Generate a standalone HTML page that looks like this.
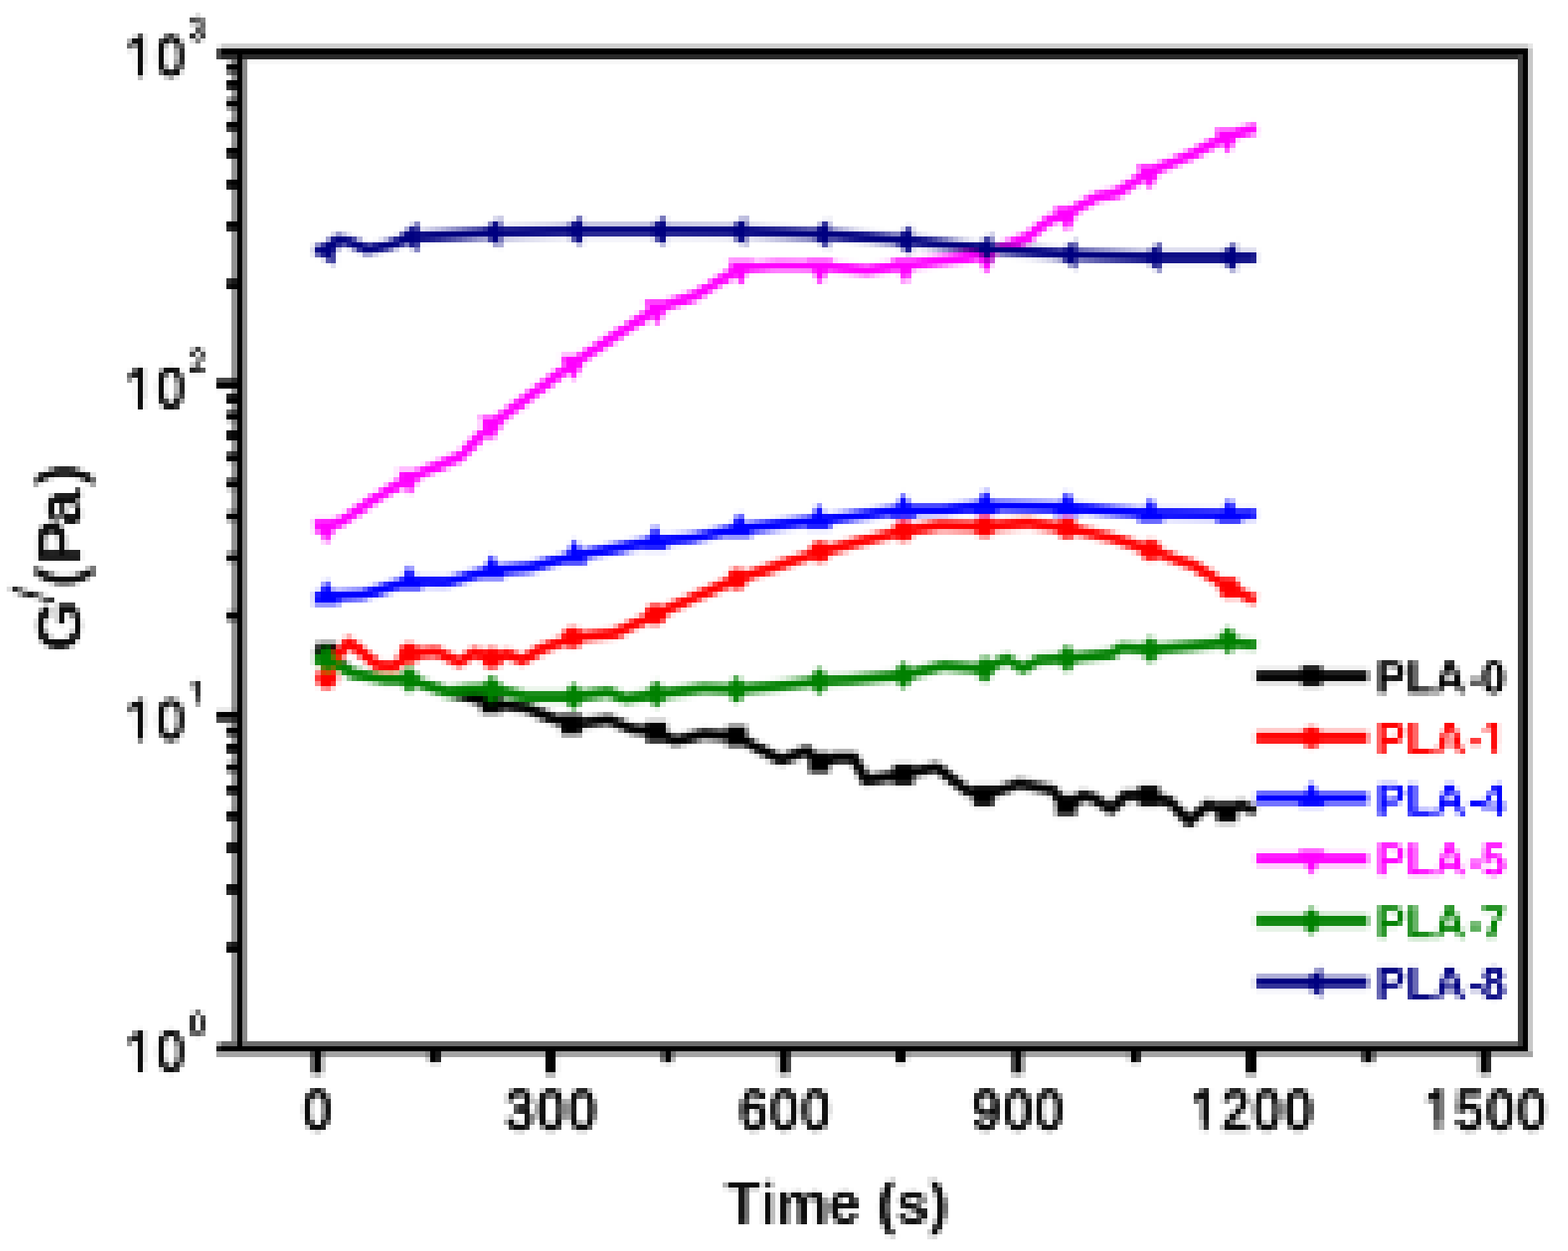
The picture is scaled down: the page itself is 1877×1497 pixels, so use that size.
<!DOCTYPE html>
<html lang="en">
<head>
<meta charset="utf-8">
<title>G' (Pa) versus Time (s)</title>
<style>
html,body{margin:0;padding:0;background:#fff;}
body{width:1877px;height:1497px;overflow:hidden;}
svg{display:block;}
text{font-family:"Liberation Sans",sans-serif;}
</style>
</head>
<body>
<svg width="1877" height="1497" viewBox="0 0 1877 1497">
<defs>
<filter id="b1" x="-5%" y="-5%" width="110%" height="110%"><feGaussianBlur stdDeviation="1.6"/></filter>
<filter id="b2" x="-5%" y="-5%" width="110%" height="110%"><feGaussianBlur stdDeviation="2.2"/></filter>
<filter id="b3" x="-5%" y="-5%" width="110%" height="110%"><feGaussianBlur stdDeviation="1.6"/></filter>
<filter id="b4" x="-5%" y="-5%" width="110%" height="110%"><feGaussianBlur stdDeviation="1.6"/></filter>
<filter id="pix" filterUnits="userSpaceOnUse" primitiveUnits="userSpaceOnUse" x="-12" y="-12" width="1901" height="1521" color-interpolation-filters="sRGB">
<feFlood x="5" y="2" width="1" height="25" flood-color="#000" result="c0"/>
<feFlood x="11" y="2" width="1" height="25" flood-color="#000" result="c1"/>
<feFlood x="18" y="2" width="1" height="25" flood-color="#000" result="c2"/>
<feFlood x="24" y="2" width="1" height="25" flood-color="#000" result="c3"/>
<feFlood x="30" y="2" width="1" height="25" flood-color="#000" result="c4"/>
<feFlood x="36" y="2" width="1" height="25" flood-color="#000" result="c5"/>
<feFlood x="43" y="2" width="1" height="25" flood-color="#000" result="c6"/>
<feFlood x="49" y="2" width="1" height="25" flood-color="#000" result="c7"/>
<feFlood x="55" y="2" width="1" height="25" flood-color="#000" result="c8"/>
<feFlood x="61" y="2" width="1" height="25" flood-color="#000" result="c9"/>
<feFlood x="68" y="2" width="1" height="25" flood-color="#000" result="c10"/>
<feFlood x="74" y="2" width="1" height="25" flood-color="#000" result="c11"/>
<feFlood x="80" y="2" width="1" height="25" flood-color="#000" result="c12"/>
<feFlood x="86" y="2" width="1" height="25" flood-color="#000" result="c13"/>
<feFlood x="93" y="2" width="1" height="25" flood-color="#000" result="c14"/>
<feFlood x="99" y="2" width="1" height="25" flood-color="#000" result="c15"/>
<feFlood x="105" y="2" width="1" height="25" flood-color="#000" result="c16"/>
<feFlood x="111" y="2" width="1" height="25" flood-color="#000" result="c17"/>
<feFlood x="118" y="2" width="1" height="25" flood-color="#000" result="c18"/>
<feFlood x="124" y="2" width="1" height="25" flood-color="#000" result="c19"/>
<feFlood x="130" y="2" width="1" height="25" flood-color="#000" result="c20"/>
<feFlood x="136" y="2" width="1" height="25" flood-color="#000" result="c21"/>
<feFlood x="143" y="2" width="1" height="25" flood-color="#000" result="c22"/>
<feFlood x="149" y="2" width="1" height="25" flood-color="#000" result="c23"/>
<feFlood x="155" y="2" width="1" height="25" flood-color="#000" result="c24"/>
<feFlood x="161" y="2" width="1" height="25" flood-color="#000" result="c25"/>
<feFlood x="168" y="2" width="1" height="25" flood-color="#000" result="c26"/>
<feFlood x="174" y="2" width="1" height="25" flood-color="#000" result="c27"/>
<feFlood x="180" y="2" width="1" height="25" flood-color="#000" result="c28"/>
<feFlood x="186" y="2" width="1" height="25" flood-color="#000" result="c29"/>
<feFlood x="193" y="2" width="1" height="25" flood-color="#000" result="c30"/>
<feFlood x="199" y="2" width="1" height="25" flood-color="#000" result="c31"/>
<feFlood x="205" y="2" width="1" height="25" flood-color="#000" result="c32"/>
<feFlood x="211" y="2" width="1" height="25" flood-color="#000" result="c33"/>
<feFlood x="218" y="2" width="1" height="25" flood-color="#000" result="c34"/>
<feMerge x="2" y="2" width="219" height="25" result="cols"><feMergeNode in="c0"/><feMergeNode in="c1"/><feMergeNode in="c2"/><feMergeNode in="c3"/><feMergeNode in="c4"/><feMergeNode in="c5"/><feMergeNode in="c6"/><feMergeNode in="c7"/><feMergeNode in="c8"/><feMergeNode in="c9"/><feMergeNode in="c10"/><feMergeNode in="c11"/><feMergeNode in="c12"/><feMergeNode in="c13"/><feMergeNode in="c14"/><feMergeNode in="c15"/><feMergeNode in="c16"/><feMergeNode in="c17"/><feMergeNode in="c18"/><feMergeNode in="c19"/><feMergeNode in="c20"/><feMergeNode in="c21"/><feMergeNode in="c22"/><feMergeNode in="c23"/><feMergeNode in="c24"/><feMergeNode in="c25"/><feMergeNode in="c26"/><feMergeNode in="c27"/><feMergeNode in="c28"/><feMergeNode in="c29"/><feMergeNode in="c30"/><feMergeNode in="c31"/><feMergeNode in="c32"/><feMergeNode in="c33"/><feMergeNode in="c34"/></feMerge>
<feFlood x="2" y="5" width="219" height="1" flood-color="#000" result="r0"/>
<feFlood x="2" y="11" width="219" height="1" flood-color="#000" result="r1"/>
<feFlood x="2" y="18" width="219" height="1" flood-color="#000" result="r2"/>
<feFlood x="2" y="24" width="219" height="1" flood-color="#000" result="r3"/>
<feMerge x="2" y="2" width="219" height="25" result="rows"><feMergeNode in="r0"/><feMergeNode in="r1"/><feMergeNode in="r2"/><feMergeNode in="r3"/></feMerge>
<feComposite in="cols" in2="rows" operator="in" x="2" y="2" width="219" height="25" result="cell"/>
<feTile in="cell" x="-12" y="-12" width="1901" height="1521" result="grid"/>
<feComposite in="SourceGraphic" in2="grid" operator="in" result="samp"/>
<feMorphology in="samp" operator="dilate" radius="2" result="d"/>
<feOffset in="d" dx="1" dy="0" result="dxp"/>
<feOffset in="d" dx="-1" dy="0" result="dxm"/>
<feMerge result="dx"><feMergeNode in="dxp"/><feMergeNode in="dxm"/><feMergeNode in="d"/></feMerge>
<feOffset in="dx" dx="0" dy="1" result="dyp"/>
<feOffset in="dx" dx="0" dy="-1" result="dym"/>
<feMerge><feMergeNode in="dyp"/><feMergeNode in="dym"/><feMergeNode in="dx"/></feMerge>
</filter>
</defs>
<g id="chart">
<rect x="-12" y="-12" width="1901" height="1521" fill="#fff"/>
<g shape-rendering="crispEdges">
<rect x="265" y="52" width="1564" height="6" fill="#d0d0d0"/>
<rect x="259" y="52" width="6" height="6" fill="#f0f0f0"/>
<rect x="1829" y="52" width="6" height="6" fill="#e6e6e6"/>
<rect x="296" y="71" width="1521" height="6" fill="#f8f8f8"/>
<rect x="265" y="58" width="1564" height="7" fill="#000"/>
<rect x="259" y="58" width="6" height="13" fill="#474747"/>
<rect x="265" y="65" width="1552" height="6" fill="#2a2a2a"/>
<rect x="265" y="1246" width="1564" height="6" fill="#6c6c6c"/>
<rect x="259" y="1246" width="6" height="6" fill="#a8a8a8"/>
<rect x="265" y="1252" width="1564" height="6" fill="#000"/>
<rect x="259" y="1252" width="6" height="6" fill="#1a1a1a"/>
<rect x="259" y="1258" width="1576" height="7" fill="#a4a4a4"/>
<rect x="277" y="71" width="7" height="1175" fill="#929292"/>
<rect x="290" y="71" width="6" height="1175" fill="#8a8a8a"/>
<rect x="284" y="65" width="6" height="1187" fill="#000"/>
<rect x="1817" y="65" width="6" height="1187" fill="#3c3c3c"/>
<rect x="1823" y="58" width="6" height="1200" fill="#000"/>
<rect x="1829" y="58" width="6" height="1200" fill="#c8c8c8"/>
</g>
<g filter="url(#b1)">
<rect x="271.5" y="335.1" width="13.5" height="10.8" fill="#000"/>
<rect x="271.5" y="265.2" width="13.5" height="10.8" fill="#000"/>
<rect x="271.5" y="215.6" width="13.5" height="10.8" fill="#000"/>
<rect x="271.5" y="177.1" width="13.5" height="10.8" fill="#000"/>
<rect x="271.5" y="145.7" width="13.5" height="10.8" fill="#000"/>
<rect x="271.5" y="119.1" width="13.5" height="10.8" fill="#000"/>
<rect x="271.5" y="96.1" width="13.5" height="10.8" fill="#000"/>
<rect x="271.5" y="75.8" width="13.5" height="10.8" fill="#000"/>
<rect x="259.5" y="454.6" width="25.5" height="10.8" fill="#000"/>
<rect x="271.5" y="732.1" width="13.5" height="10.8" fill="#000"/>
<rect x="271.5" y="662.2" width="13.5" height="10.8" fill="#000"/>
<rect x="271.5" y="612.6" width="13.5" height="10.8" fill="#000"/>
<rect x="271.5" y="574.1" width="13.5" height="10.8" fill="#000"/>
<rect x="271.5" y="542.7" width="13.5" height="10.8" fill="#000"/>
<rect x="271.5" y="516.1" width="13.5" height="10.8" fill="#000"/>
<rect x="271.5" y="493.1" width="13.5" height="10.8" fill="#000"/>
<rect x="271.5" y="472.8" width="13.5" height="10.8" fill="#000"/>
<rect x="259.5" y="851.6" width="25.5" height="10.8" fill="#000"/>
<rect x="271.5" y="1129.1" width="13.5" height="10.8" fill="#000"/>
<rect x="271.5" y="1059.2" width="13.5" height="10.8" fill="#000"/>
<rect x="271.5" y="1009.6" width="13.5" height="10.8" fill="#000"/>
<rect x="271.5" y="971.1" width="13.5" height="10.8" fill="#000"/>
<rect x="271.5" y="939.7" width="13.5" height="10.8" fill="#000"/>
<rect x="271.5" y="913.1" width="13.5" height="10.8" fill="#000"/>
<rect x="271.5" y="890.1" width="13.5" height="10.8" fill="#000"/>
<rect x="271.5" y="869.8" width="13.5" height="10.8" fill="#000"/>
<rect x="374.2" y="1257" width="12.2" height="28.5" fill="#000"/>
<rect x="513.9" y="1257" width="12.2" height="15.5" fill="#000"/>
<rect x="653.7" y="1257" width="12.2" height="28.5" fill="#000"/>
<rect x="793.4" y="1257" width="12.2" height="15.5" fill="#000"/>
<rect x="933.2" y="1257" width="12.2" height="28.5" fill="#000"/>
<rect x="1073.0" y="1257" width="12.2" height="15.5" fill="#000"/>
<rect x="1212.7" y="1257" width="12.2" height="28.5" fill="#000"/>
<rect x="1352.5" y="1257" width="12.2" height="15.5" fill="#000"/>
<rect x="1492.2" y="1257" width="12.2" height="28.5" fill="#000"/>
<rect x="1632.0" y="1257" width="12.2" height="15.5" fill="#000"/>
<rect x="1771.7" y="1257" width="12.2" height="28.5" fill="#000"/>
</g>
<g shape-rendering="crispEdges">
<rect x="284" y="65" width="6" height="1187" fill="#000"/>
<rect x="265" y="1252" width="1564" height="6" fill="#000"/>
<rect x="265" y="58" width="1564" height="7" fill="#000"/>
<rect x="265" y="65" width="1552" height="6" fill="#2a2a2a"/>
<rect x="284" y="65" width="6" height="6" fill="#000"/>
</g>
<g filter="url(#b2)">
<polyline points="377.0,783.0 391.3,783.0 422.0,806.0 460.0,813.0 490.0,814.0 535.4,828.0 560.0,833.5 588.0,842.0 630.6,847.6 659.0,859.0 684.0,867.4 729.5,861.7 757.8,873.0 786.0,876.0 808.6,887.0 842.5,878.7 882.0,881.5 913.0,898.4 935.7,909.7 966.8,898.4 981.0,915.4 1000.0,907.0 1022.6,907.0 1036.7,934.0 1082.0,927.0 1121.5,918.4 1158.2,946.7 1178.0,952.3 1220.4,938.2 1260.0,945.3 1276.9,966.5 1296.7,952.3 1311.0,956.0 1330.5,969.3 1347.5,952.3 1375.8,952.3 1401.0,960.0 1423.8,983.4 1446.4,963.6 1469.0,972.0 1486.0,963.6 1503.0,970.7" fill="none" stroke="#000000" stroke-width="12.4" stroke-linejoin="round" stroke-linecap="butt"/>
<rect x="379.1" y="769.8" width="24.4" height="24.4" fill="#000000"/>
<rect x="575.8" y="829.8" width="24.4" height="24.4" fill="#000000"/>
<rect x="671.8" y="855.2" width="24.4" height="24.4" fill="#000000"/>
<rect x="773.8" y="863.8" width="24.4" height="24.4" fill="#000000"/>
<rect x="869.8" y="869.3" width="24.4" height="24.4" fill="#000000"/>
<rect x="968.8" y="900.8" width="24.4" height="24.4" fill="#000000"/>
<rect x="1069.8" y="914.8" width="24.4" height="24.4" fill="#000000"/>
<rect x="1165.8" y="940.1" width="24.4" height="24.4" fill="#000000"/>
<rect x="1264.7" y="951.8" width="24.4" height="24.4" fill="#000000"/>
<rect x="1363.6" y="940.1" width="24.4" height="24.4" fill="#000000"/>
<rect x="1456.8" y="959.8" width="24.4" height="24.4" fill="#000000"/>
<polyline points="391.3,813.0 400.0,792.0 417.6,768.5 435.0,782.0 452.7,796.6 472.0,798.0 490.3,782.5 523.0,780.0 550.4,793.0 568.0,781.0 589.3,788.0 608.0,783.0 625.6,790.6 648.0,777.1 685.7,763.5 735.8,758.5 784.7,736.0 830.0,715.9 882.7,693.3 981.7,660.8 1081.9,635.7 1125.7,628.9 1178.9,630.4 1230.0,626.2 1277.8,632.5 1330.4,643.7 1378.0,658.8 1430.7,677.5 1472.0,703.9 1503.3,718.9" fill="none" stroke="#ff0000" stroke-width="12.4" stroke-linejoin="round" stroke-linecap="butt"/>
<circle cx="391.3" cy="812.0" r="12.8" fill="#ff0000"/>
<circle cx="490.3" cy="782.5" r="12.8" fill="#ff0000"/>
<circle cx="589.3" cy="788.0" r="12.8" fill="#ff0000"/>
<circle cx="685.7" cy="763.5" r="12.8" fill="#ff0000"/>
<circle cx="784.7" cy="736.0" r="12.8" fill="#ff0000"/>
<circle cx="882.7" cy="693.3" r="12.8" fill="#ff0000"/>
<circle cx="981.7" cy="660.8" r="12.8" fill="#ff0000"/>
<circle cx="1081.9" cy="635.7" r="12.8" fill="#ff0000"/>
<circle cx="1178.9" cy="630.4" r="12.8" fill="#ff0000"/>
<circle cx="1277.8" cy="632.5" r="12.8" fill="#ff0000"/>
<circle cx="1378.0" cy="658.8" r="12.8" fill="#ff0000"/>
<circle cx="1472.0" cy="703.9" r="12.8" fill="#ff0000"/>
<polyline points="377.0,715.0 391.3,714.0 435.0,712.0 490.3,696.0 535.4,696.8 589.3,683.0 635.6,679.3 688.2,665.5 735.8,656.8 784.7,648.0 830.0,644.0 885.2,633.0 980.4,623.0 1081.9,610.5 1130.0,610.4 1179.6,605.5 1277.8,607.5 1330.0,611.8 1378.0,615.0 1472.0,616.0 1503.5,615.5" fill="none" stroke="#0000ff" stroke-width="12.4" stroke-linejoin="round" stroke-linecap="butt"/>
<polygon points="391.3,694.0 407.3,724.0 375.3,724.0" fill="#0000ff"/>
<polygon points="490.3,676.0 506.3,706.0 474.3,706.0" fill="#0000ff"/>
<polygon points="589.3,663.0 605.3,693.0 573.3,693.0" fill="#0000ff"/>
<polygon points="688.2,645.5 704.2,675.5 672.2,675.5" fill="#0000ff"/>
<polygon points="784.7,628.0 800.7,658.0 768.7,658.0" fill="#0000ff"/>
<polygon points="885.2,613.0 901.2,643.0 869.2,643.0" fill="#0000ff"/>
<polygon points="980.4,603.0 996.4,633.0 964.4,633.0" fill="#0000ff"/>
<polygon points="1081.9,590.5 1097.9,620.5 1065.9,620.5" fill="#0000ff"/>
<polygon points="1179.6,585.5 1195.6,615.5 1163.6,615.5" fill="#0000ff"/>
<polygon points="1277.8,587.5 1293.8,617.5 1261.8,617.5" fill="#0000ff"/>
<polygon points="1378.0,595.0 1394.0,625.0 1362.0,625.0" fill="#0000ff"/>
<polygon points="1472.0,596.0 1488.0,626.0 1456.0,626.0" fill="#0000ff"/>
<polyline points="377.0,631.0 391.3,631.0 410.0,624.0 447.7,598.0 491.0,572.0 551.0,547.0 589.5,508.0 687.0,435.0 787.0,369.5 833.0,354.0 887.0,321.0 930.0,318.0 982.0,318.5 1038.0,324.0 1084.0,317.5 1155.7,309.0 1181.0,304.0 1231.0,284.0 1256.0,264.0 1278.0,256.0 1312.7,236.4 1338.0,231.0 1377.0,206.0 1425.5,186.0 1470.0,163.0 1504.0,153.7" fill="none" stroke="#ff00ff" stroke-width="12.4" stroke-linejoin="round" stroke-linecap="butt"/>
<polygon points="391.3,652.0 407.3,622.0 375.3,622.0" fill="#ff00ff"/>
<polygon points="491.0,593.0 507.0,563.0 475.0,563.0" fill="#ff00ff"/>
<polygon points="589.5,529.0 605.5,499.0 573.5,499.0" fill="#ff00ff"/>
<polygon points="687.0,456.0 703.0,426.0 671.0,426.0" fill="#ff00ff"/>
<polygon points="787.0,390.0 803.0,360.0 771.0,360.0" fill="#ff00ff"/>
<polygon points="887.0,342.0 903.0,312.0 871.0,312.0" fill="#ff00ff"/>
<polygon points="982.0,341.0 998.0,311.0 966.0,311.0" fill="#ff00ff"/>
<polygon points="1084.0,340.0 1100.0,310.0 1068.0,310.0" fill="#ff00ff"/>
<polygon points="1181.0,328.0 1197.0,298.0 1165.0,298.0" fill="#ff00ff"/>
<polygon points="1278.0,278.0 1294.0,248.0 1262.0,248.0" fill="#ff00ff"/>
<polygon points="1377.0,228.0 1393.0,198.0 1361.0,198.0" fill="#ff00ff"/>
<polygon points="1470.0,185.0 1486.0,155.0 1454.0,155.0" fill="#ff00ff"/>
<polyline points="377.0,790.5 391.3,790.5 422.6,806.1 460.0,813.5 490.3,813.5 535.4,828.5 560.0,825.5 589.3,824.5 630.6,834.0 687.0,834.0 729.0,828.5 749.0,836.5 786.0,831.1 842.5,824.1 882.0,825.5 930.0,821.5 981.0,815.5 1018.0,814.0 1081.9,808.5 1130.0,797.3 1178.9,801.1 1205.0,788.7 1225.0,800.5 1243.0,790.3 1277.8,788.4 1330.4,783.0 1343.0,775.4 1378.0,777.7 1430.0,773.2 1470.8,769.0 1504.0,772.0" fill="none" stroke="#008000" stroke-width="12.4" stroke-linejoin="round" stroke-linecap="butt"/>
<polygon points="391.3,773.5 406.3,790.5 391.3,807.5 376.3,790.5" fill="#008000"/>
<polygon points="490.3,796.5 505.3,813.5 490.3,830.5 475.3,813.5" fill="#008000"/>
<polygon points="589.3,807.5 604.3,824.5 589.3,841.5 574.3,824.5" fill="#008000"/>
<polygon points="687.0,817.0 702.0,834.0 687.0,851.0 672.0,834.0" fill="#008000"/>
<polygon points="786.0,814.1 801.0,831.1 786.0,848.1 771.0,831.1" fill="#008000"/>
<polygon points="882.0,808.5 897.0,825.5 882.0,842.5 867.0,825.5" fill="#008000"/>
<polygon points="981.0,798.5 996.0,815.5 981.0,832.5 966.0,815.5" fill="#008000"/>
<polygon points="1081.9,791.5 1096.9,808.5 1081.9,825.5 1066.9,808.5" fill="#008000"/>
<polygon points="1178.9,784.1 1193.9,801.1 1178.9,818.1 1163.9,801.1" fill="#008000"/>
<polygon points="1277.8,771.4 1292.8,788.4 1277.8,805.4 1262.8,788.4" fill="#008000"/>
<polygon points="1378.0,760.7 1393.0,777.7 1378.0,794.7 1363.0,777.7" fill="#008000"/>
<polygon points="1470.8,750.0 1485.8,767.0 1470.8,784.0 1455.8,767.0" fill="#008000"/>
<polyline points="377.0,300.0 395.0,300.0 405.0,287.0 420.0,290.0 440.0,299.0 465.0,294.0 495.0,284.0 593.0,278.5 691.0,276.5 791.0,276.5 887.6,277.0 986.6,280.5 1085.6,288.0 1182.0,298.0 1283.0,305.0 1384.0,308.3 1474.0,308.3 1504.0,308.3" fill="none" stroke="#000080" stroke-width="12.4" stroke-linejoin="round" stroke-linecap="butt"/>
<polygon points="376.0,300.0 401.0,282.0 401.0,318.0" fill="#000080"/>
<polygon points="476.0,284.0 501.0,266.0 501.0,302.0" fill="#000080"/>
<polygon points="574.0,278.5 599.0,260.5 599.0,296.5" fill="#000080"/>
<polygon points="672.0,276.5 697.0,258.5 697.0,294.5" fill="#000080"/>
<polygon points="772.0,276.5 797.0,258.5 797.0,294.5" fill="#000080"/>
<polygon points="868.6,277.0 893.6,259.0 893.6,295.0" fill="#000080"/>
<polygon points="967.6,280.5 992.6,262.5 992.6,298.5" fill="#000080"/>
<polygon points="1066.6,288.0 1091.6,270.0 1091.6,306.0" fill="#000080"/>
<polygon points="1163.0,298.0 1188.0,280.0 1188.0,316.0" fill="#000080"/>
<polygon points="1264.0,305.0 1289.0,287.0 1289.0,323.0" fill="#000080"/>
<polygon points="1365.0,308.3 1390.0,290.3 1390.0,326.3" fill="#000080"/>
<polygon points="1455.0,308.3 1480.0,290.3 1480.0,326.3" fill="#000080"/>
<rect x="1503.5" y="802.9" width="134.5" height="12.8" fill="#000000"/>
<rect x="1558.4" y="797.1" width="24.4" height="24.4" fill="#000000"/>
<rect x="1503.5" y="876.4" width="134.5" height="12.8" fill="#ff0000"/>
<circle cx="1570.6" cy="882.8" r="12.8" fill="#ff0000"/>
<rect x="1503.5" y="949.0" width="134.5" height="12.8" fill="#0000ff"/>
<polygon points="1570.6,935.4 1586.6,965.4 1554.6,965.4" fill="#0000ff"/>
<rect x="1503.5" y="1021.7" width="134.5" height="12.8" fill="#ff00ff"/>
<polygon points="1570.6,1048.1 1586.6,1018.1 1554.6,1018.1" fill="#ff00ff"/>
<rect x="1503.5" y="1095.8" width="134.5" height="12.8" fill="#008000"/>
<polygon points="1570.6,1085.2 1585.6,1102.2 1570.6,1119.2 1555.6,1102.2" fill="#008000"/>
<rect x="1503.5" y="1169.6" width="134.5" height="12.8" fill="#000080"/>
<polygon points="1557.6,1176.0 1582.6,1158.0 1582.6,1194.0" fill="#000080"/>
</g>
<g filter="url(#b3)">
<text transform="translate(0,829.6) scale(0.97,1)" x="1698.5 1735.6 1769.6 1811.9 1828.4" font-size="55.5" font-weight="bold" fill="#000000">PLA-0</text>
<text transform="translate(0,903.1) scale(0.97,1)" x="1698.5 1735.6 1769.6 1811.9 1828.4" font-size="55.5" font-weight="bold" fill="#ff0000">PLA-1</text>
<g transform="translate(0,903.1) scale(0.97,1)" fill="#fff"><rect x="1829.8" y="-7.2" width="11.4" height="9.7"/><rect x="1848.9" y="-7.2" width="10.7" height="9.7"/></g>
<text transform="translate(0,975.7) scale(0.97,1)" x="1698.5 1735.6 1769.6 1811.9 1828.4" font-size="55.5" font-weight="bold" fill="#0000ff">PLA-4</text>
<text transform="translate(0,1048.4) scale(0.97,1)" x="1698.5 1735.6 1769.6 1811.9 1828.4" font-size="55.5" font-weight="bold" fill="#ff00ff">PLA-5</text>
<text transform="translate(0,1122.5) scale(0.97,1)" x="1698.5 1735.6 1769.6 1811.9 1828.4" font-size="55.5" font-weight="bold" fill="#008000">PLA-7</text>
<text transform="translate(0,1196.3) scale(0.97,1)" x="1698.5 1735.6 1769.6 1811.9 1828.4" font-size="55.5" font-weight="bold" fill="#000080">PLA-8</text>
</g>
<g filter="url(#b4)" fill="#111">
<text transform="translate(0,1351.9) scale(0.89,1)" x="408.4" font-size="68" stroke="#111" stroke-width="3.2">0</text>
<text transform="translate(0,1351.9) scale(0.89,1)" x="680.3 722.4 764.6" font-size="68" stroke="#111" stroke-width="3.2">300</text>
<text transform="translate(0,1351.9) scale(0.89,1)" x="994.4 1036.5 1078.6" font-size="68" stroke="#111" stroke-width="3.2">600</text>
<text transform="translate(0,1351.9) scale(0.89,1)" x="1308.4 1350.5 1392.7" font-size="68" stroke="#111" stroke-width="3.2">900</text>
<text transform="translate(0,1351.9) scale(0.89,1)" x="1601.4 1643.5 1685.6 1727.8" font-size="68" stroke="#111" stroke-width="3.2">1200</text><g transform="translate(0,1351.9) scale(0.89,1)" fill="#fff"><rect x="1602.9" y="-8.2" width="13.9" height="12.3"/><rect x="1626.0" y="-8.2" width="13.4" height="12.3"/></g>
<text transform="translate(0,1351.9) scale(0.89,1)" x="1915.4 1957.6 1999.7 2041.8" font-size="68" stroke="#111" stroke-width="3.2">1500</text><g transform="translate(0,1351.9) scale(0.89,1)" fill="#fff"><rect x="1917.0" y="-8.2" width="13.9" height="12.3"/><rect x="1940.1" y="-8.2" width="13.4" height="12.3"/></g>
<text transform="translate(0,90.8) scale(0.89,1)" x="169.0 211.2" font-size="68" stroke="#111" stroke-width="3.2">10</text><g transform="translate(0,90.8) scale(0.89,1)" fill="#fff"><rect x="170.6" y="-8.2" width="13.9" height="12.3"/><rect x="193.7" y="-8.2" width="13.4" height="12.3"/></g>
<text transform="translate(0,48.8) scale(0.82,1)" x="277.0" font-size="41" stroke="#111" stroke-width="1.8">3</text>
<text transform="translate(0,487.8) scale(0.89,1)" x="169.0 211.2" font-size="68" stroke="#111" stroke-width="3.2">10</text><g transform="translate(0,487.8) scale(0.89,1)" fill="#fff"><rect x="170.6" y="-8.2" width="13.9" height="12.3"/><rect x="193.7" y="-8.2" width="13.4" height="12.3"/></g>
<text transform="translate(0,445.8) scale(0.82,1)" x="277.0" font-size="41" stroke="#111" stroke-width="1.8">2</text>
<text transform="translate(0,884.8) scale(0.89,1)" x="169.0 211.2" font-size="68" stroke="#111" stroke-width="3.2">10</text><g transform="translate(0,884.8) scale(0.89,1)" fill="#fff"><rect x="170.6" y="-8.2" width="13.9" height="12.3"/><rect x="193.7" y="-8.2" width="13.4" height="12.3"/></g>
<text transform="translate(0,842.8) scale(0.82,1)" x="277.0" font-size="41" stroke="#111" stroke-width="1.8">1</text><g transform="translate(0,842.8) scale(0.82,1)" fill="#fff"><rect x="277.2" y="-5.5" width="9.2" height="8.9"/><rect x="291.8" y="-5.5" width="8.8" height="8.9"/></g>
<text transform="translate(0,1281.8) scale(0.89,1)" x="169.0 211.2" font-size="68" stroke="#111" stroke-width="3.2">10</text><g transform="translate(0,1281.8) scale(0.89,1)" fill="#fff"><rect x="170.6" y="-8.2" width="13.9" height="12.3"/><rect x="193.7" y="-8.2" width="13.4" height="12.3"/></g>
<text transform="translate(0,1239.8) scale(0.82,1)" x="277.0" font-size="41" stroke="#111" stroke-width="1.8">0</text>
<text x="1002" y="1463.5" font-size="70" font-weight="bold" text-anchor="middle">Time (s)</text>
<text transform="translate(97,778) rotate(-90) scale(1.06,1)" font-size="75" font-weight="bold" x="-2 53 70 96 139.5 185" y="0 -34 0 0 0 0">G<tspan font-weight="normal" font-size="68">/</tspan>(Pa)</text>
</g>
</g>
<use href="#chart" x="0" y="0" filter="url(#pix)"/>
</svg>
</body>
</html>
